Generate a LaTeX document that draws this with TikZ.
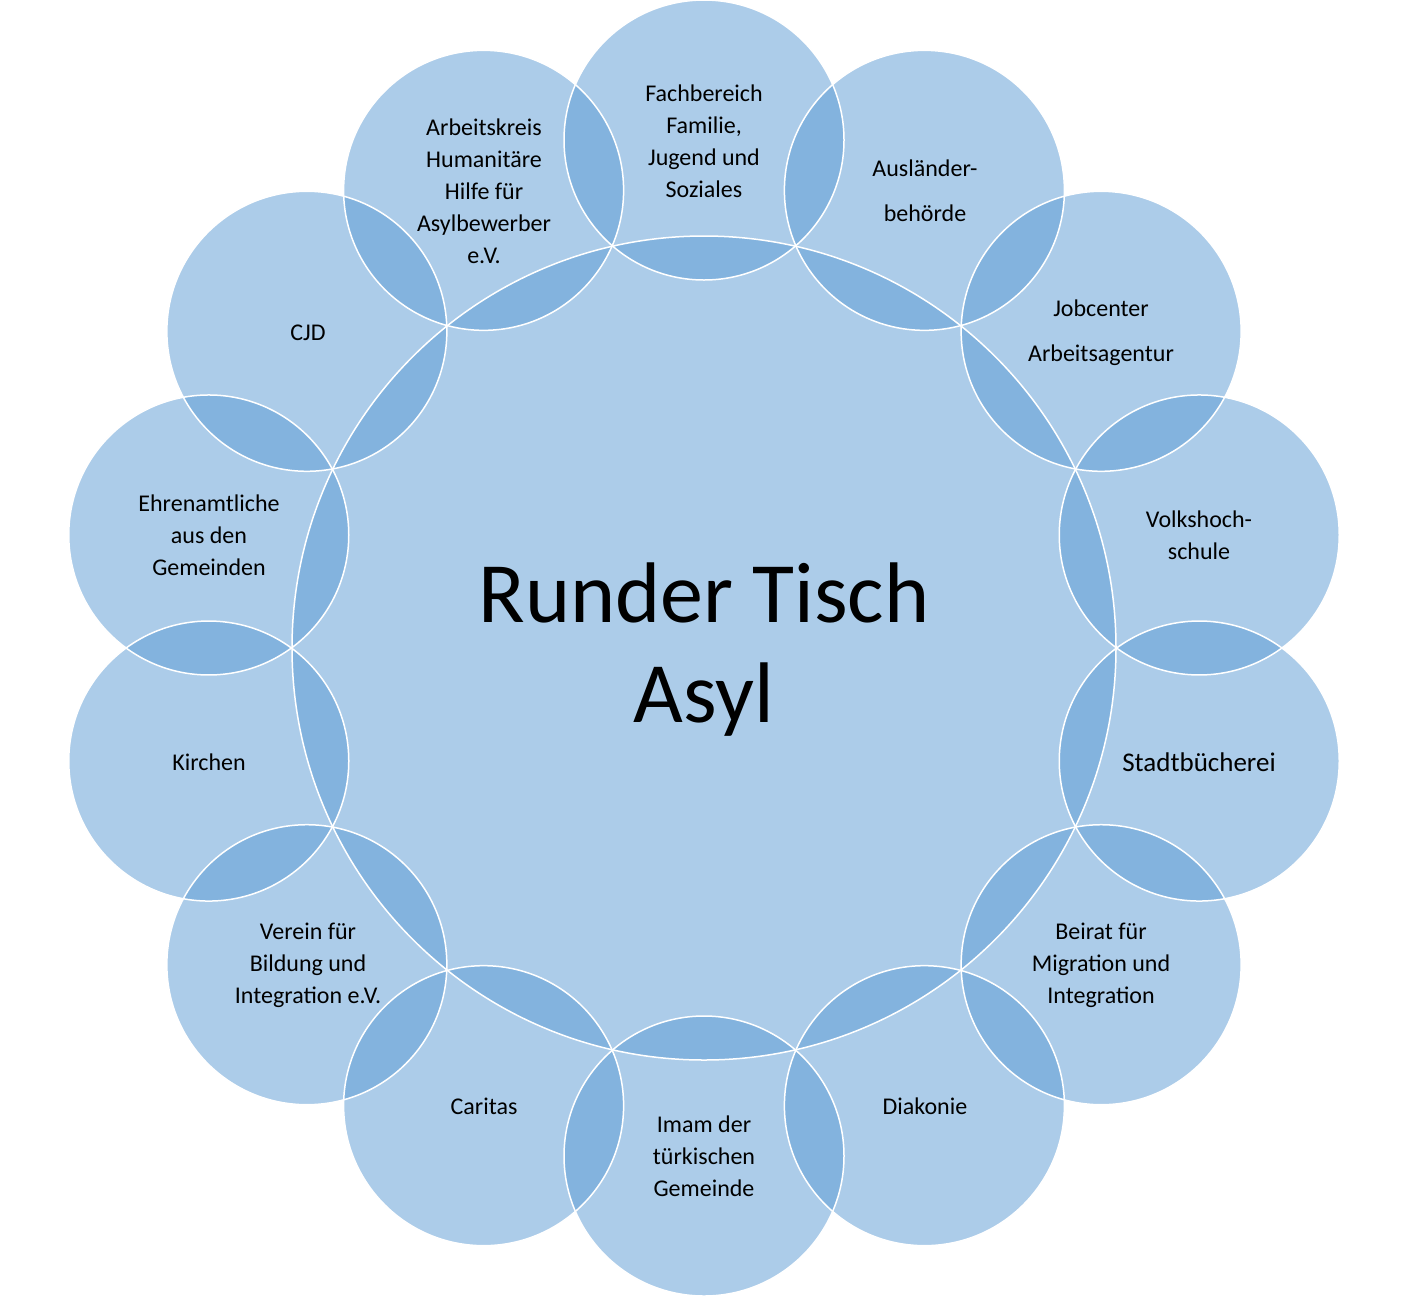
\documentclass[tikz,border=0pt]{standalone}
\usepackage{fontspec}
\setmainfont{Carlito}
\usetikzlibrary{calc}
\definecolor{acc}{HTML}{5B9BD5}
\begin{document}
\begin{tikzpicture}[x=1pt,y=-1pt,
  blob/.style={circle,fill=acc,fill opacity=0.5,inner sep=0pt},
  rim/.style={circle,draw=white,line width=1.5pt,inner sep=0pt},
  lbl/.style={align=center,font=\fontsize{24}{32}\selectfont,text=black}]
\useasboundingbox (0,0) rectangle (1413,1299);
\fill[white] (0,0) rectangle (1413,1299);
\coordinate (c) at (704,648);
\node[blob,minimum size=824pt] (main) at (c) {};
\foreach \k in {0,...,13}{
  \node[blob,minimum size=280pt] (o\k) at ($(c)+({90+\k*360/14}:-508)$) {};
}
\node[rim,minimum size=824pt] at (c) {};
\foreach \k in {0,...,13}{
  \node[rim,minimum size=280pt] at (o\k) {};
}
\node[align=center,font=\fontsize{86}{100}\selectfont] (t) at (704,650) {Runder Tisch\\Asyl};
\node[lbl] (l0) at (704,141) {Fachbereich\\Familie,\\Jugend und\\Soziales};
\node[lbl,font=\fontsize{24}{45}\selectfont] (l1) at (925,191) {Ausländer-\\behörde};
\node[lbl,font=\fontsize{24}{45}\selectfont] (l2) at (1101,333) {Jobcenter\\Arbeitsagentur};
\node[lbl] (l3) at (1199,535) {Volkshoch-\\schule};
\node[lbl,font=\fontsize{27}{32}\selectfont] (l4) at (1199,762) {Stadtbücherei};
\node[lbl] (l5) at (1101,965) {Beirat für\\Migration und\\Integration};
\node[lbl] (l6) at (925,1106) {Diakonie};
\node[lbl] (l7) at (704,1156) {Imam der\\türkischen\\Gemeinde};
\node[lbl] (l8) at (484,1106) {Caritas};
\node[lbl] (l9) at (308,965) {Verein für\\Bildung und\\Integration e.V.};
\node[lbl] (l10) at (209,762) {Kirchen};
\node[lbl] (l11) at (209,535) {Ehrenamtliche\\aus den\\Gemeinden};
\node[lbl] (l12) at (308,333) {CJD};
\node[lbl] (l13) at (484,191) {Arbeitskreis\\Humanitäre\\Hilfe für\\Asylbewerber\\e.V.};
\end{tikzpicture}
\end{document}
